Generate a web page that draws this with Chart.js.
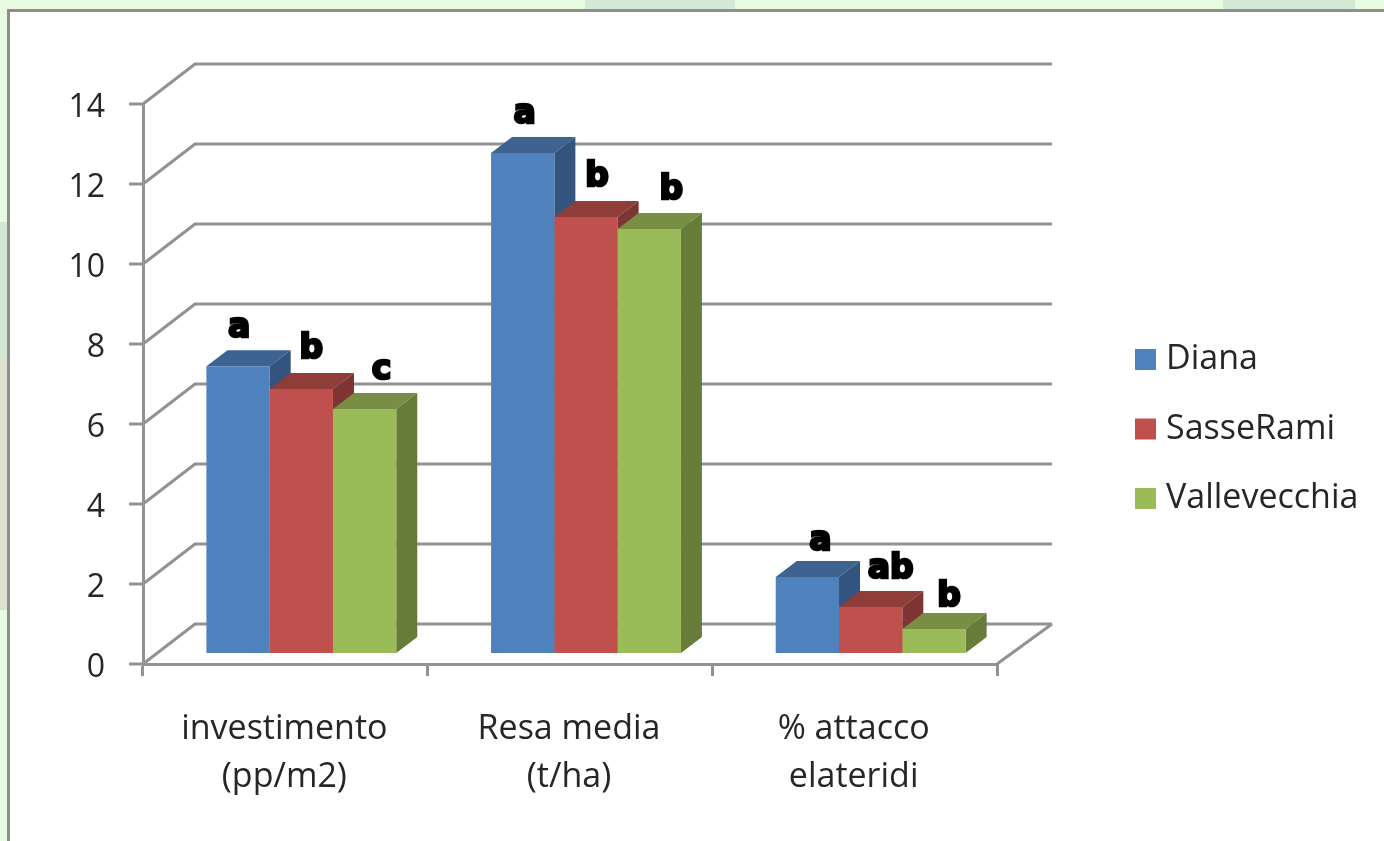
<!DOCTYPE html>
<html>
<head>
<meta charset="utf-8">
<title>Confronto</title>
<script src="https://cdn.jsdelivr.net/npm/chart.js@4"></script>
<style>
html, body { margin: 0; padding: 0; width: 1384px; height: 841px; overflow: hidden; background: #e9fbe0; }
.patch { position: absolute; }
#panel { position: absolute; left: 7px; top: 9px; right: 0; bottom: 0; background: #fff; border-left: 3px solid #8e8e8e; border-top: 3px solid #8e8e8e; }
#subsChart { position: absolute; left: 0; top: 0; filter: blur(0.6px); }
</style>
</head>
<body>
<div class="patch" style="left:585px;top:0;width:150px;height:9px;background:#d4e9d5"></div>
<div class="patch" style="left:1223px;top:0;width:132px;height:9px;background:#d4e9d5"></div>
<div class="patch" style="left:0;top:222px;width:7px;height:136px;background:#d2e8d4"></div>
<div class="patch" style="left:0;top:358px;width:7px;height:252px;background:#dde1d0"></div>
<div id="panel"></div>
<canvas id="subsChart" width="1384" height="841"></canvas>
<script>
const categories = [['investimento', '(pp/m2)'], ['Resa media', '(t/ha)'], ['% attacco', 'elateridi']];
const diana = [7.17, 12.5, 1.9];
const sasseRami = [6.6, 10.9, 1.15];
const valleVecchia = [6.1, 10.6, 0.6];
const dianaLetters = ['a', 'a', 'a'];
const sasseLetters = ['b', 'b', 'ab'];
const valleLetters = ['c', 'b', 'b'];

const letters = [dianaLetters, sasseLetters, valleLetters];
// where each letter sits relative to the top of its bar
const letterNudge = [
    [[1, -38], [2, -39], [13, -36]],
    [[10, -40], [11, -40], [20, -38]],
    [[17, -39], [22, -39], [15, -32]]
];
const faceColors = [
    { top: '#3e6391', side: '#32547e' },
    { top: '#903c39', side: '#7d3432' },
    { top: '#788e45', side: '#677b3b' }
];

const lineGrey = '#929292';
const textColor = '#262626';
const wallX = 52, wallY = -40;   // back wall offset
const barX = 16, barY = -11;     // bars stand on the floor, off the front edge
const depthX = 21, depthY = -16; // bar depth

const fakeDepth = {
    id: 'fakeDepth',
    beforeDatasetsDraw(chart) {
        const c = chart.ctx;
        const yScale = chart.scales.y;
        const area = chart.chartArea;
        // walls and floor
        c.save();
        c.strokeStyle = lineGrey;
        c.lineWidth = 3;
        yScale.ticks.forEach(t => {
            const y = yScale.getPixelForValue(t.value);
            c.beginPath();
            c.moveTo(area.left, y);
            c.lineTo(area.left + wallX, y + wallY);
            c.lineTo(area.right + wallX + 3, y + wallY);
            c.stroke();
        });
        c.beginPath();
        c.moveTo(area.right, area.bottom);
        c.lineTo(area.right + wallX + 3, area.bottom + wallY);
        c.stroke();
        // top and side faces, left bars first so the next bar covers them
        chart.data.datasets.forEach((ds, i) => {
            chart.getDatasetMeta(i).data.forEach(bar => {
                const p = bar.getProps(['x', 'y', 'base', 'width'], true);
                const l = p.x - p.width / 2 + barX;
                const r = p.x + p.width / 2 + barX;
                const t = p.y + barY;
                const b = p.base + barY;
                c.fillStyle = faceColors[i].top;
                c.beginPath();
                c.moveTo(l, t);
                c.lineTo(l + depthX, t + depthY);
                c.lineTo(r + depthX, t + depthY);
                c.lineTo(r, t);
                c.closePath();
                c.fill();
                c.fillStyle = faceColors[i].side;
                c.beginPath();
                c.moveTo(r, t);
                c.lineTo(r + depthX, t + depthY);
                c.lineTo(r + depthX, b + depthY);
                c.lineTo(r, b);
                c.closePath();
                c.fill();
            });
        });
        c.restore();
        // front faces are drawn by the library, moved onto the floor
        c.save();
        c.translate(barX, barY);
    },
    afterDatasetsDraw(chart) {
        const c = chart.ctx;
        c.restore();
        c.save();
        c.font = '900 33px "DejaVu Sans"';
        c.textAlign = 'center';
        c.textBaseline = 'middle';
        c.fillStyle = '#000';
        c.strokeStyle = '#000';
        c.lineWidth = 2.5;
        chart.data.datasets.forEach((ds, i) => {
            chart.getDatasetMeta(i).data.forEach((bar, j) => {
                const p = bar.getProps(['x', 'y'], true);
                const x = p.x + barX + letterNudge[i][j][0];
                const y = p.y + barY + letterNudge[i][j][1];
                c.strokeText(letters[i][j], x, y);
                c.fillText(letters[i][j], x, y);
            });
        });
        c.restore();
    },
    afterLayout(chart) {
        // legend sits in the empty space right of the plot
        const lg = chart.legend;
        const w = lg.width, h = lg.height;
        lg.left = 1106.5;
        lg.top = 307;
        lg.right = lg.left + w;
        lg.bottom = lg.top + h;
    }
};

Chart.defaults.font.family = '"Open Sans"';
Chart.defaults.color = textColor;

const ctx = document.getElementById('subsChart').getContext('2d');
const subsChart = new Chart(ctx, {
    type: 'bar',
    data: {
        labels: categories,
        datasets: [
            { label: 'Diana', data: diana, backgroundColor: '#4f81bd' },
            { label: 'SasseRami', data: sasseRami, backgroundColor: '#c0504d' },
            { label: 'Vallevecchia', data: valleVecchia, backgroundColor: '#9bbb59' }
        ]
    },
    options: {
        responsive: false,
        animation: false,
        clip: false,
        categoryPercentage: 0.667,
        barPercentage: 1,
        layout: { padding: { top: 104, right: 387, left: 0, bottom: 0 } },
        plugins: {
            tooltip: { enabled: false },
            legend: {
                position: 'chartArea',
                align: 'start',
                labels: {
                    boxWidth: 7,
                    boxHeight: 7,
                    padding: 35.5,
                    font: { size: 34, lineHeight: 1.2 },
                    // thick same-colour border so the swatch stays close to its text
                    generateLabels(chart) {
                        const items = Chart.defaults.plugins.legend.labels.generateLabels(chart);
                        items.forEach(it => { it.lineWidth = 14; it.strokeStyle = it.fillStyle; });
                        return items;
                    }
                }
            }
        },
        scales: {
            y: {
                min: 0,
                max: 14,
                ticks: { stepSize: 2, padding: 24, labelOffset: 4, font: { size: 32 } },
                // lineWidth 0 keeps the bar base on the zero line, only the tick marks show
                grid: { drawOnChartArea: false, color: lineGrey, lineWidth: 0, tickColor: lineGrey, tickWidth: 3, tickLength: 14 },
                border: { color: lineGrey, width: 3 },
                afterFit(s) { s.width = 143; }
            },
            x: {
                ticks: { padding: 30, labelOffset: -1, maxRotation: 0, autoSkip: false, font: { size: 34, lineHeight: 1.39 } },
                grid: { drawOnChartArea: false, color: lineGrey, lineWidth: 3, tickLength: 12 },
                border: { color: lineGrey, width: 3 },
                afterFit(s) { s.height = 177; }
            }
        }
    },
    plugins: [fakeDepth]
});
</script>
</body>
</html>
